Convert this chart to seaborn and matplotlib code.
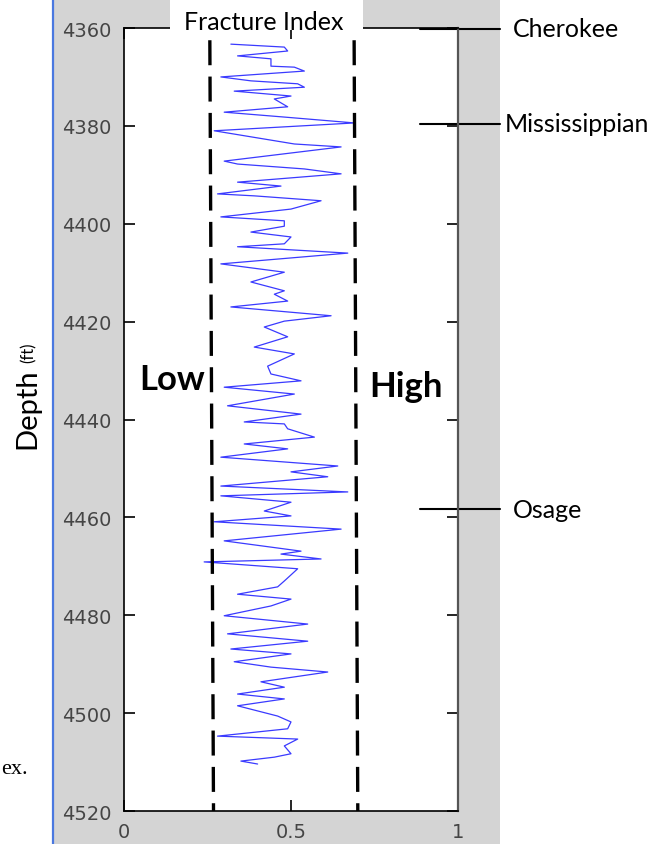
import matplotlib
matplotlib.use("Agg")
import matplotlib.pyplot as plt
import seaborn as sns
import pandas as pd
from matplotlib.patches import Rectangle
from matplotlib.lines import Line2D
import matplotlib.transforms as mtransforms

# ---- data ----
depth_ft = [4363.3, 4363.9, 4364.7, 4365.7, 4366.3, 4367.8, 4368.0, 4368.8, 4370.0, 4370.8,
            4371.4, 4372.1, 4372.9, 4373.9, 4374.5, 4376.1, 4377.2, 4378.2, 4379.4, 4381.0,
            4383.7, 4384.3, 4387.2, 4387.8, 4388.8, 4389.8, 4390.9, 4391.5, 4392.3, 4393.9,
            4394.3, 4395.3, 4397.0, 4398.6, 4399.4, 4400.5, 4401.7, 4402.7, 4404.1, 4404.7,
            4406.0, 4408.2, 4409.9, 4411.9, 4413.7, 4414.4, 4415.8, 4417.0, 4418.8, 4419.9,
            4421.1, 4423.1, 4425.2, 4426.6, 4429.1, 4430.7, 4432.1, 4433.4, 4434.8, 4437.2,
            4438.9, 4440.5, 4440.9, 4441.9, 4443.6, 4445.0, 4446.0, 4447.7, 4449.5, 4450.7,
            4451.7, 4453.6, 4454.8, 4455.6, 4456.9, 4458.7, 4459.7, 4460.9, 4462.4, 4464.8,
            4466.9, 4467.5, 4468.5, 4469.1, 4470.5, 4473.0, 4474.2, 4475.7, 4476.7, 4478.1,
            4480.1, 4481.8, 4483.8, 4485.3, 4486.9, 4487.9, 4489.5, 4490.6, 4491.6, 4493.6,
            4494.7, 4496.1, 4497.1, 4498.5, 4500.6, 4501.8, 4503.2, 4504.7, 4505.3, 4506.7,
            4508.3, 4509.0, 4509.8, 4510.4]
fracture_index = [0.32, 0.48, 0.49, 0.34, 0.44, 0.44, 0.51, 0.54, 0.29, 0.38,
                  0.52, 0.54, 0.33, 0.50, 0.45, 0.49, 0.30, 0.48, 0.69, 0.27,
                  0.51, 0.65, 0.30, 0.34, 0.54, 0.65, 0.45, 0.34, 0.47, 0.28,
                  0.39, 0.59, 0.50, 0.29, 0.48, 0.48, 0.38, 0.50, 0.48, 0.34,
                  0.67, 0.29, 0.48, 0.38, 0.48, 0.45, 0.49, 0.32, 0.62, 0.48,
                  0.42, 0.49, 0.39, 0.51, 0.43, 0.44, 0.53, 0.30, 0.51, 0.31,
                  0.53, 0.36, 0.48, 0.49, 0.57, 0.36, 0.49, 0.29, 0.64, 0.50,
                  0.61, 0.29, 0.67, 0.29, 0.50, 0.42, 0.50, 0.27, 0.65, 0.30,
                  0.53, 0.47, 0.59, 0.24, 0.52, 0.48, 0.46, 0.34, 0.50, 0.44,
                  0.30, 0.55, 0.31, 0.55, 0.32, 0.50, 0.33, 0.44, 0.61, 0.41,
                  0.48, 0.34, 0.48, 0.34, 0.46, 0.50, 0.49, 0.28, 0.52, 0.48,
                  0.50, 0.45, 0.35, 0.40]

low_cutoff_x = [0.257, 0.268]
high_cutoff_x = [0.689, 0.700]
cutoff_depth = [4362.5, 4520.0]

formations = ["Cherokee", "Mississippian", "Osage"]
formation_depth = [4360.2, 4379.6, 4458.3]

x_ticks = [0, 0.5, 1]
x_tick_labels = ["0", "0.5", "1"]
y_ticks = [4360, 4380, 4400, 4420, 4440, 4460, 4480, 4500, 4520]

df = pd.DataFrame({"depth": depth_ft, "fi": fracture_index})

# ---- figure ----
W, H = 661, 845
sns.set_style("white")
plt.rcParams["font.family"] = ["DejaVu Sans"]
plt.rcParams["text.color"] = "black"
fig = plt.figure(figsize=(W / 100, H / 100), dpi=100)
fig.patch.set_facecolor("white")

def fx(px):
    return px / W

def fy(py):
    return 1 - py / H

# grey MATLAB-like figure background band
fig.add_artist(Rectangle((fx(53), 0), fx(500) - fx(53), 1, transform=fig.transFigure,
                         facecolor="#d4d4d4", edgecolor="none", zorder=-5))
# blue vertical edge line on the left
fig.add_artist(Line2D([fx(53), fx(53)], [0, 1], transform=fig.transFigure,
                      color="#4a78e0", lw=1.6, zorder=-4))

ax = fig.add_axes([fx(124), 33 / H, (458 - 124) / W, 783 / H])
ax.set_facecolor("white")

sns.lineplot(data=df, x="fi", y="depth", sort=False, estimator=None,
             color="#3a3aff", lw=0.9, ax=ax)

# dashed cutoffs
dash = (0, (7.5, 3.4))
ax.plot(low_cutoff_x, cutoff_depth, color="black", lw=2.4, linestyle=dash, clip_on=False)
ax.plot(high_cutoff_x, cutoff_depth, color="black", lw=2.4, linestyle=dash, clip_on=False)

ax.set_xlim(0, 1)
ax.set_ylim(4520, 4360)
ax.set_xticks(x_ticks)
ax.set_xticklabels(x_tick_labels)
ax.set_yticks(y_ticks)
ax.set_xlabel("")
ax.set_ylabel("")
ax.tick_params(axis="both", direction="in", length=8, width=1.2, color="black",
               labelsize=14, labelcolor="#454545", top=True, right=True,
               left=True, bottom=True)
ax.tick_params(axis="y", pad=9)
ax.tick_params(axis="x", pad=8)
for s in ["left", "bottom", "top"]:
    ax.spines[s].set_color("black")
    ax.spines[s].set_linewidth(1.2)
ax.spines["right"].set_color("#555555")
ax.spines["right"].set_linewidth(1.6)

# Low / High labels
ax.text(0.144, 4431.7, "Low", ha="center", va="center", fontsize=25,
        fontweight="bold", family="Lato", color="black")
ax.text(0.845, 4433.2, "High", ha="center", va="center", fontsize=25,
        fontweight="bold", family="Lato", color="black")

# formation tops
trans = mtransforms.blended_transform_factory(ax.transAxes, ax.transData)
label_x = [1.165, 1.141, 1.165]
for name, d, lx in zip(formations, formation_depth, label_x):
    ax.plot([0.885, 1.125], [d, d], color="black", lw=1.5, transform=trans, clip_on=False)
    ax.text(lx, d, name, transform=trans, ha="left", va="center", fontsize=18,
            family="Lato", color="black")

# title box covering the top spine
fig.add_artist(Rectangle((fx(170), fy(31)), fx(363) - fx(170), 31 / H,
                         transform=fig.transFigure, facecolor="white",
                         edgecolor="none", zorder=3))
fig.text(fx(264), fy(22), "Fracture Index", ha="center", va="center",
         fontsize=18, family="Lato", color="black", zorder=4)

# y label
fig.text(fx(27), fy(409), "Depth", rotation=90, ha="center", va="center",
         fontsize=21, family="Lato", color="black")
fig.text(fx(29), fy(353), "(ft)", rotation=90, ha="center", va="center",
         fontsize=12, family="Lato", color="black")

# stray caption fragment from the source page
fig.text(fx(1), fy(770), "ex.", ha="left", va="center", fontsize=16,
         family="Liberation Serif", color="black")

fig.savefig("out.png", dpi=100)
